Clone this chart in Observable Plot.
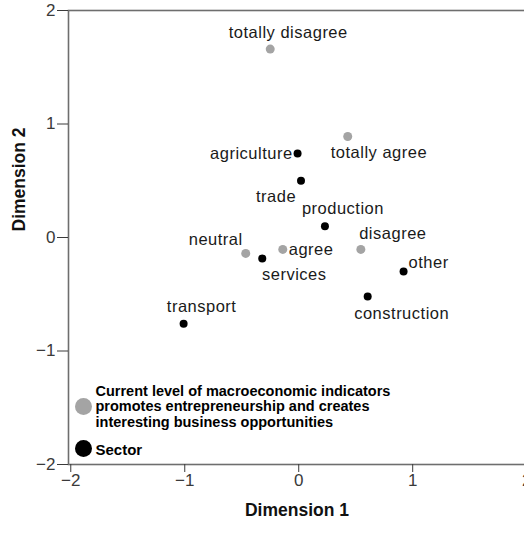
<!DOCTYPE html>
<html>
<head>
<meta charset="utf-8">
<script src="https://cdn.jsdelivr.net/npm/d3@7"></script>
<script src="https://cdn.jsdelivr.net/npm/@observablehq/plot@0.6"></script>
<style>
  html, body { margin: 0; padding: 0; background: #fff; overflow: hidden; }
  #chart svg { display: block; max-width: none !important; height: 533px !important; }
  .pt-label text, text.pt-label, g.pt-label { letter-spacing: 0.5px; }
</style>
</head>
<body>
<div id="chart"></div>
<script>
// ---- data ----
const agreementCategories = ["totally disagree", "totally agree", "neutral", "agree", "disagree"];
const agreementDim1 = [-0.25, 0.43, -0.465, -0.14, 0.545];
const agreementDim2 = [1.66, 0.89, -0.14, -0.105, -0.105];

const sectorCategories = ["agriculture", "trade", "production", "services", "other", "construction", "transport"];
const sectorDim1 = [-0.01, 0.02, 0.23, -0.32, 0.92, 0.605, -1.01];
const sectorDim2 = [0.74, 0.50, 0.10, -0.185, -0.30, -0.52, -0.76];

const axisTicks = [-2, -1, 0, 1, 2];
const xTitle = "Dimension 1";
const yTitle = "Dimension 2";
const legendLabels = [
  "Current level of macroeconomic indicators\npromotes entrepreneurship and creates\ninteresting business opportunities",
  "Sector"
];

// ---- label placement (style) ----
const placement = {
  "totally disagree": {anchor: "middle", dx: 18, dy: -16},
  "totally agree": {anchor: "start", dx: -17, dy: 16},
  "neutral": {anchor: "middle", dx: -30, dy: -14},
  "agree": {anchor: "start", dx: 6, dy: 0},
  "disagree": {anchor: "middle", dx: 32, dy: -16},
  "agriculture": {anchor: "end", dx: -5, dy: 0},
  "trade": {anchor: "middle", dx: -25, dy: 16},
  "production": {anchor: "middle", dx: 18, dy: -17},
  "services": {anchor: "middle", dx: 32, dy: 16},
  "other": {anchor: "start", dx: 5, dy: -9},
  "construction": {anchor: "middle", dx: 34, dy: 17},
  "transport": {anchor: "middle", dx: 18, dy: -17}
};

const grayColor = "#a4a4a4";
const agreement = agreementCategories.map((name, i) => ({name, d1: agreementDim1[i], d2: agreementDim2[i]}));
const sector = sectorCategories.map((name, i) => ({name, d1: sectorDim1[i], d2: sectorDim2[i]}));
const allPoints = [...agreement, ...sector];

const labelMarks = allPoints.map(p => Plot.text([p], {
  x: "d1", y: "d2", text: "name",
  textAnchor: placement[p.name].anchor,
  dx: placement[p.name].dx, dy: placement[p.name].dy,
  fontSize: 16.5, fill: "#1a1a1a", className: "pt-label"
}));

const chart = Plot.plot({
  width: 540,
  height: 533,
  marginLeft: 68,
  marginRight: 7,
  marginTop: 10,
  marginBottom: 69,
  style: {fontFamily: "'Liberation Sans', Arial, sans-serif", background: "#fff"},
  x: {domain: [-2.02, 2.06]},
  y: {domain: [-2, 2]},
  marks: [
    Plot.frame({stroke: "#6e6e6e", strokeWidth: 1.6}),
    Plot.axisX({ticks: axisTicks, tickSize: 8, tickPadding: 1, fontSize: 17, color: "#3a3a3a", label: null, tickFormat: d3.format("")}),
    Plot.axisY({ticks: axisTicks, tickSize: 11, tickPadding: 2, fontSize: 17, color: "#3a3a3a", label: null, tickFormat: d3.format("")}),
    Plot.dot(agreement, {x: "d1", y: "d2", r: 4.5, fill: grayColor}),
    Plot.dot(sector, {x: "d1", y: "d2", r: 4, fill: "#000"}),
    ...labelMarks,
    // axis titles
    Plot.text([xTitle], {text: d => d, frameAnchor: "bottom", dx: -4, dy: 51, fontSize: 17.5, fontWeight: "bold", fill: "#111"}),
    Plot.text([yTitle], {text: d => d, frameAnchor: "left", rotate: -90, dx: -49, dy: -6, fontSize: 17.5, fontWeight: "bold", fill: "#111"}),
    // legend
    Plot.dot([legendLabels[0]], {frameAnchor: "bottom-left", dx: 15, dy: -58, r: 8.5, fill: grayColor}),
    Plot.dot([legendLabels[1]], {frameAnchor: "bottom-left", dx: 15, dy: -16, r: 8.5, fill: "#000"}),
    Plot.text([legendLabels[0]], {text: d => d, frameAnchor: "bottom-left", lineAnchor: "middle", textAnchor: "start", dx: 27, dy: -58, lineHeight: 1.05, fontSize: 14.5, fontWeight: "bold", fill: "#000"}),
    Plot.text([legendLabels[1]], {text: d => d, frameAnchor: "bottom-left", lineAnchor: "middle", textAnchor: "start", dx: 27, dy: -14, fontSize: 15, fontWeight: "bold", fill: "#000"})
  ]
});
document.getElementById("chart").appendChild(chart);
</script>
</body>
</html>
